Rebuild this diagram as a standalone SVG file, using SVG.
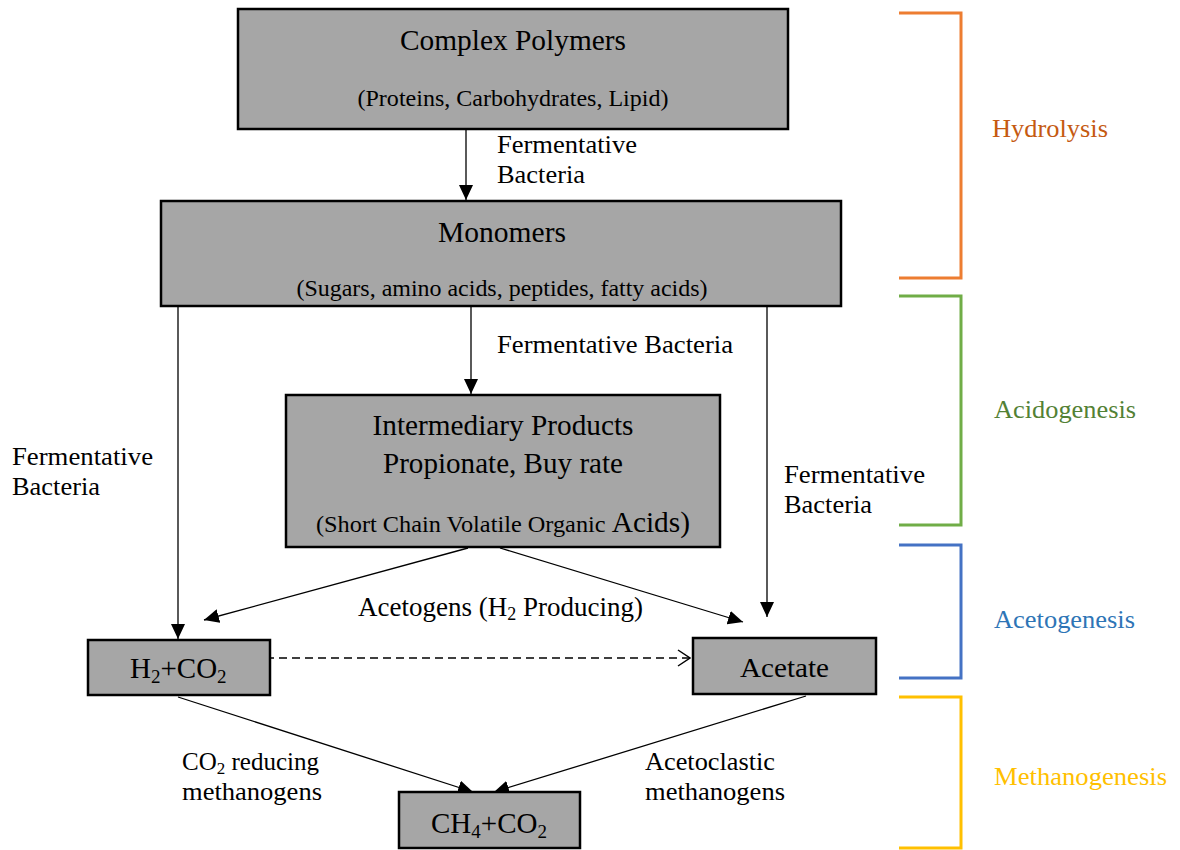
<svg xmlns="http://www.w3.org/2000/svg" width="1180" height="850" viewBox="0 0 1180 850">
<defs>
<marker id="ah" markerUnits="userSpaceOnUse" markerWidth="16" markerHeight="14" refX="15" refY="7" orient="auto">
<path d="M0,0 L15,7 L0,14 z" fill="#000"/>
</marker>
<marker id="oh" markerUnits="userSpaceOnUse" markerWidth="14" markerHeight="18" refX="13" refY="9" orient="auto">
<path d="M1,1 L13,9 L1,17" fill="none" stroke="#000" stroke-width="1.5"/>
</marker>
</defs>
<style>
.box{fill:#a6a6a6;stroke:#000;stroke-width:2.5}
.t{font-family:"Liberation Serif","Times New Roman",serif;fill:#000}
.lbl{font-family:"Liberation Serif","Times New Roman",serif;fill:#000;font-size:25px}
.ln{stroke:#000;stroke-width:1.3;fill:none}
.br{fill:none;stroke-width:3}
.ph{font-family:"Liberation Serif","Times New Roman",serif;font-size:25px}
</style>
<rect width="1180" height="850" fill="#fff"/>

<g id="connectors">
<line class="ln" x1="466" y1="130" x2="466" y2="200" marker-end="url(#ah)"/>
<line class="ln" x1="178" y1="307" x2="178" y2="639" marker-end="url(#ah)"/>
<line class="ln" x1="471" y1="307" x2="471" y2="394" marker-end="url(#ah)"/>
<line class="ln" x1="767" y1="307" x2="767" y2="617" marker-end="url(#ah)"/>
<line class="ln" x1="468" y1="548" x2="204" y2="620" marker-end="url(#ah)"/>
<line class="ln" x1="500" y1="548" x2="743" y2="622" marker-end="url(#ah)"/>
<line class="ln" x1="266" y1="658" x2="690" y2="658" stroke-dasharray="8,5" marker-end="url(#oh)"/>
<line class="ln" x1="178" y1="697" x2="473" y2="792" marker-end="url(#ah)"/>
<line class="ln" x1="806" y1="696" x2="494" y2="792" marker-end="url(#ah)"/>
</g>

<g id="complex-polymers">
<rect class="box" x="238" y="9" width="550" height="120"/>
<text class="t" x="513" y="50" font-size="29" text-anchor="middle" textLength="226" lengthAdjust="spacingAndGlyphs">Complex Polymers</text>
<text class="t" x="513" y="106" font-size="24" text-anchor="middle" textLength="311" lengthAdjust="spacingAndGlyphs">(Proteins, Carbohydrates, Lipid)</text>
</g>

<g id="monomers">
<rect class="box" x="161" y="201" width="680" height="105"/>
<text class="t" x="502" y="242" font-size="29" text-anchor="middle" textLength="128" lengthAdjust="spacingAndGlyphs">Monomers</text>
<text class="t" x="502" y="296" font-size="24" text-anchor="middle" textLength="411" lengthAdjust="spacingAndGlyphs">(Sugars, amino acids, peptides, fatty acids)</text>
</g>

<g id="intermediary">
<rect class="box" x="286" y="395" width="434" height="152"/>
<text class="t" x="503" y="435" font-size="29" text-anchor="middle" textLength="261" lengthAdjust="spacingAndGlyphs">Intermediary Products</text>
<text class="t" x="503" y="473" font-size="29" text-anchor="middle" textLength="240" lengthAdjust="spacingAndGlyphs">Propionate, Buy rate</text>
<text class="t" x="316" y="532" font-size="24" textLength="374" lengthAdjust="spacingAndGlyphs">(Short Chain Volatile Organic <tspan font-size="29">Acids)</tspan></text>
</g>

<g id="h2co2">
<rect class="box" x="88" y="640" width="182" height="55"/>
<text class="t" x="130" y="678" font-size="29">H<tspan font-size="19" dy="5">2</tspan><tspan dy="-5">+CO</tspan><tspan font-size="19" dy="5">2</tspan></text>
</g>

<g id="acetate">
<rect class="box" x="693" y="638" width="183" height="56"/>
<text class="t" x="784.5" y="677" font-size="28" text-anchor="middle" textLength="89" lengthAdjust="spacingAndGlyphs">Acetate</text>
</g>

<g id="ch4co2">
<rect class="box" x="399" y="792" width="181" height="56"/>
<text class="t" x="431" y="833" font-size="29">CH<tspan font-size="19" dy="5">4</tspan><tspan dy="-5">+CO</tspan><tspan font-size="19" dy="5">2</tspan></text>
</g>

<g id="labels">
<text class="lbl" x="497" y="153" textLength="140" lengthAdjust="spacingAndGlyphs">Fermentative</text>
<text class="lbl" x="497" y="183" textLength="88" lengthAdjust="spacingAndGlyphs">Bacteria</text>
<text class="lbl" x="497" y="353" textLength="236" lengthAdjust="spacingAndGlyphs">Fermentative Bacteria</text>
<text class="lbl" x="12" y="465" textLength="141" lengthAdjust="spacingAndGlyphs">Fermentative</text>
<text class="lbl" x="12" y="495" textLength="88" lengthAdjust="spacingAndGlyphs">Bacteria</text>
<text class="lbl" x="784" y="483" textLength="141" lengthAdjust="spacingAndGlyphs">Fermentative</text>
<text class="lbl" x="784" y="513" textLength="88" lengthAdjust="spacingAndGlyphs">Bacteria</text>
<text class="lbl" x="358" y="616" style="font-size:27px">Acetogens (H<tspan style="font-size:18px" dy="4">2</tspan><tspan dy="-4"> Producing)</tspan></text>
<text class="lbl" x="182" y="770">CO<tspan style="font-size:17px" dy="4">2</tspan><tspan dy="-4"> reducing</tspan></text>
<text class="lbl" x="182" y="800" textLength="140" lengthAdjust="spacingAndGlyphs">methanogens</text>
<text class="lbl" x="645" y="770" textLength="130" lengthAdjust="spacingAndGlyphs">Acetoclastic</text>
<text class="lbl" x="645" y="800" textLength="140" lengthAdjust="spacingAndGlyphs">methanogens</text>
</g>

<g id="phases">
<polyline class="br" stroke="#ed7d31" points="899,13 961,13 961,278 899,278"/>
<polyline class="br" stroke="#70ad47" points="899,296 961,296 961,525 899,525"/>
<polyline class="br" stroke="#4472c4" points="899,545 961,545 961,678 899,678"/>
<polyline class="br" stroke="#ffc000" points="899,697 961,697 961,848 899,848"/>
<text class="ph" x="992" y="137" fill="#c55a11" textLength="116" lengthAdjust="spacingAndGlyphs">Hydrolysis</text>
<text class="ph" x="994" y="418" fill="#538135" textLength="142" lengthAdjust="spacingAndGlyphs">Acidogenesis</text>
<text class="ph" x="994" y="628" fill="#2e75b6" textLength="141" lengthAdjust="spacingAndGlyphs">Acetogenesis</text>
<text class="ph" x="994" y="785" fill="#ffc000" textLength="173" lengthAdjust="spacingAndGlyphs">Methanogenesis</text>
</g>
</svg>
